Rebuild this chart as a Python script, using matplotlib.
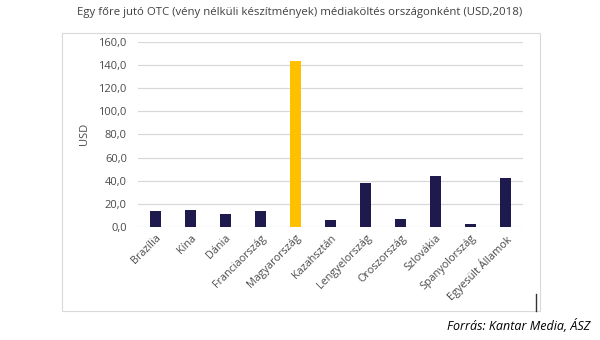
import matplotlib.pyplot as plt
from matplotlib.patches import Rectangle
from matplotlib.lines import Line2D

plt.rcParams['font.family'] = ['Open Sans', 'DejaVu Sans']

# Per-capita OTC media spend by country (USD, 2018)
countries = ['Brazília', 'Kína', 'Dánia', 'Franciaország', 'Magyarország', 'Kazahsztán',
             'Lengyelország', 'Oroszország', 'Szlovákia', 'Spanyolország', 'Egyesült Államok']
spend = [13.6, 14.6, 10.8, 13.7, 143.3, 5.8, 38.4, 6.9, 44.1, 2.6, 41.9]
highlight = 'Magyarország'
yticks = [0, 20, 40, 60, 80, 100, 120, 140, 160]

navy = '#1e1a4d'
gold = '#ffc000'
txt = '#4a4a4a'
colors = [gold if c == highlight else navy for c in countries]

fig = plt.figure(figsize=(6, 3.4), dpi=100)
# outer chart frame
fig.patches.append(Rectangle((62 / 600, 1 - 311 / 340), (540 - 62) / 600, (311 - 33) / 340,
                             transform=fig.transFigure, fill=False, edgecolor='#d9d9d9', lw=0.8))
fig.lines.append(Line2D([536 / 600, 536 / 600], [1 - 311 / 340, 1 - 294 / 340],
                        transform=fig.transFigure, color='#333333', lw=1))

ax = fig.add_axes([138 / 600, 1 - 227 / 340, (523 - 138) / 600, (227 - 41.7) / 340])
x = range(len(countries))
ax.bar(x, spend, width=0.32, color=colors, zorder=3)
ax.set_xlim(-0.5, len(countries) - 0.5)
ax.set_ylim(0, 160)
ax.set_yticks(yticks)
ax.set_yticklabels([f'{v:.1f}'.replace('.', ',') for v in yticks], fontsize=8, color=txt)
ax.set_xticks(list(x))
ax.set_xticklabels(countries, rotation=45, ha='right', rotation_mode='anchor',
                   fontsize=7.8, color=txt)
ax.tick_params(length=0)
ax.tick_params(axis='y', pad=8)
ax.tick_params(axis='x', pad=4)
ax.grid(axis='y', color='#d9d9d9', lw=0.9, zorder=0)
for s in ax.spines.values():
    s.set_visible(False)
ax.set_ylabel('USD', fontsize=8, color=txt, labelpad=6)

fig.text(0.5, 1 - 13 / 340, 'Egy főre jutó OTC (vény nélküli készítmények) médiaköltés országonként (USD,2018)',
         ha='center', va='center', fontsize=8.2, color='#404040')
fig.text(590 / 600, 1 - 326 / 340, 'Forrás: Kantar Media, ÁSZ', ha='right', va='center',
         fontsize=9, style='italic', color='#000000')

fig.savefig('out.png', dpi=100)
